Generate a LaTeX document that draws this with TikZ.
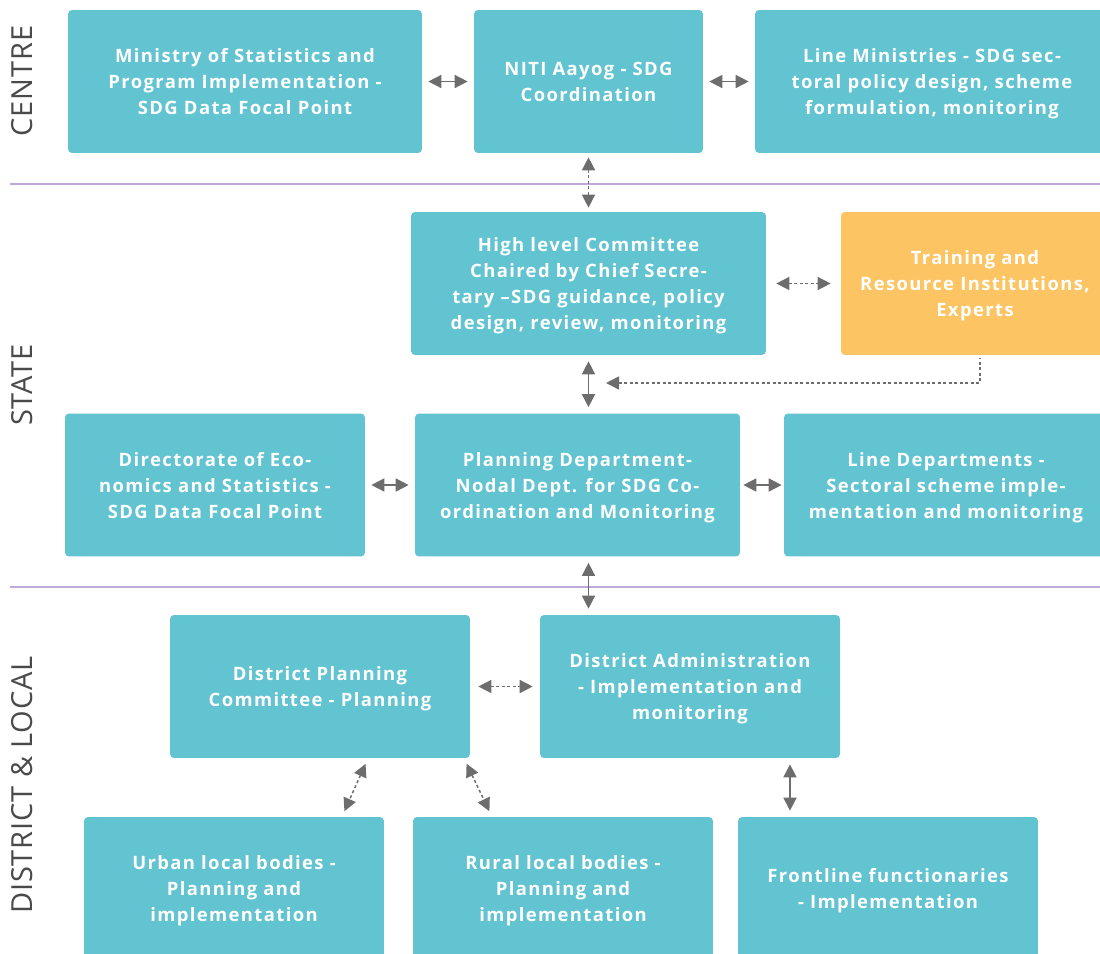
\documentclass[tikz,border=0pt]{standalone}
\usepackage{fontspec}
\setmainfont{Open Sans}[LetterSpace=7.5]
\newfontfamily\sidefont{Open Sans}[LetterSpace=3.0]
\usetikzlibrary{arrows.meta}
\definecolor{boxcyan}{HTML}{62C3D1}
\definecolor{boxorange}{HTML}{FCC463}
\definecolor{arrgray}{HTML}{6D6D6D}
\definecolor{linepurple}{HTML}{BFA9DA}
\definecolor{labelgray}{HTML}{4A4A4A}
\tikzset{
	box/.style={fill=boxcyan, rounded corners=0.08cm, text=white, align=center, inner sep=0pt,
		font=\bfseries\fontsize{10.5}{14.8}\selectfont, minimum height=2.86cm, text depth=-2pt},
	arr/.style={{Triangle[length=0.26cm,width=0.26cm]}-{Triangle[length=0.26cm,width=0.26cm]},
		draw=arrgray, line width=0.03cm, shorten >=0.12cm, shorten <=0.12cm},
	dasharr/.style={arr, dash pattern=on 0.06cm off 0.05cm},
	sidelabel/.style={rotate=90, text=labelgray, font=\sidefont\fontsize{16.5}{18}\selectfont},
	divider/.style={draw=linepurple, line width=0.04cm}
}
\begin{document}
\begin{tikzpicture}[x=0.02cm, y=-0.02cm]
		\clip (0,0) rectangle (1100,954);
		%side labels + dividers
			\node[sidelabel] (lcentre) at (22,81) {CENTRE};
			\node[sidelabel] (lstate) at (22,385) {STATE};
			\node[sidelabel] (ldistrict) at (22,785) {DISTRICT \& LOCAL};
			\draw[divider] (10,184) -- (1100,184);
			\draw[divider] (10,587) -- (1100,587);
		%centre
			\node[box, minimum width=7.08cm] (mospi) at (245,81.5) {Ministry of Statistics and\\Program Implementation -\\SDG Data Focal Point};
			\node[box, minimum width=4.58cm] (niti) at (588.5,81.5) {NITI Aayog - SDG\\Coordination};
			\node[box, minimum width=7.08cm] (linemin) at (932,81.5) {Line Ministries - SDG sec-\\toral policy design, scheme\\formulation, monitoring};
		%state
			\node[box, minimum width=7.1cm] (hlc) at (588.5,283.5) {High level Committee\\Chaired by Chief Secre-\\tary –SDG guidance, policy\\design, review, monitoring};
			\node[box, fill=boxorange, minimum width=5.36cm] (training) at (975,283.5) {Training and\\Resource Institutions,\\Experts};
			\node[box, minimum width=6cm] (des) at (215,485) {Directorate of Eco-\\nomics and Statistics -\\SDG Data Focal Point};
			\node[box, minimum width=6.5cm] (planning) at (577.5,485) {Planning Department-\\Nodal Dept. for SDG Co-\\ordination and Monitoring};
			\node[box, minimum width=6.48cm] (linedept) at (946,485) {Line Departments -\\Sectoral scheme imple-\\mentation and monitoring};
		%district & local
			\node[box, minimum width=6cm] (dpc) at (320,686.5) {District Planning\\Committee - Planning};
			\node[box, minimum width=6cm] (dadmin) at (690,686.5) {District Administration\\- Implementation and\\monitoring};
			\node[box, minimum width=6cm] (urban) at (234,888.5) {Urban local bodies -\\Planning and\\implementation};
			\node[box, minimum width=6cm] (rural) at (563,888.5) {Rural local bodies -\\Planning and\\implementation};
			\node[box, minimum width=6cm] (frontline) at (888,888.5) {Frontline functionaries\\- Implementation};
		%arrows
			\draw[arr] (mospi) -- (niti);
			\draw[arr] (niti) -- (linemin);
			\draw[dasharr, shorten >=0.08cm, shorten <=0.08cm] (niti.south) -- (hlc.north);
			\draw[dasharr, shorten >=0.2cm, shorten <=0.2cm] (hlc) -- (training);
			\coordinate (tip) at (606,383);
			\draw[dasharr, {Triangle[length=0.26cm,width=0.26cm]}-, shorten <=0cm, shorten >=0.06cm] (tip) -| ([xshift=0.1cm]training.south);
			\draw[arr] (hlc.south) -- (hlc.south |- planning.north);
			\draw[arr] (des) -- (planning);
			\draw[arr, shorten >=0.04cm, shorten <=0.06cm] (planning) -- (linedept);
			\draw[arr] (hlc.south |- planning.south) -- (hlc.south |- dadmin.north);
			\draw[dasharr, shorten >=0.14cm, shorten <=0.16cm] (dpc) -- (dadmin);
			\draw[dasharr] ([xshift=0.96cm]dpc.south) -- ([xshift=2.16cm]urban.north);
			\draw[dasharr] ([xshift=2.88cm]dpc.south) -- ([xshift=-1.42cm]rural.north);
			\draw[arr] ([xshift=2cm]dadmin.south) -- ([xshift=2cm]dadmin.south |- frontline.north);
	\end{tikzpicture}
\end{document}
